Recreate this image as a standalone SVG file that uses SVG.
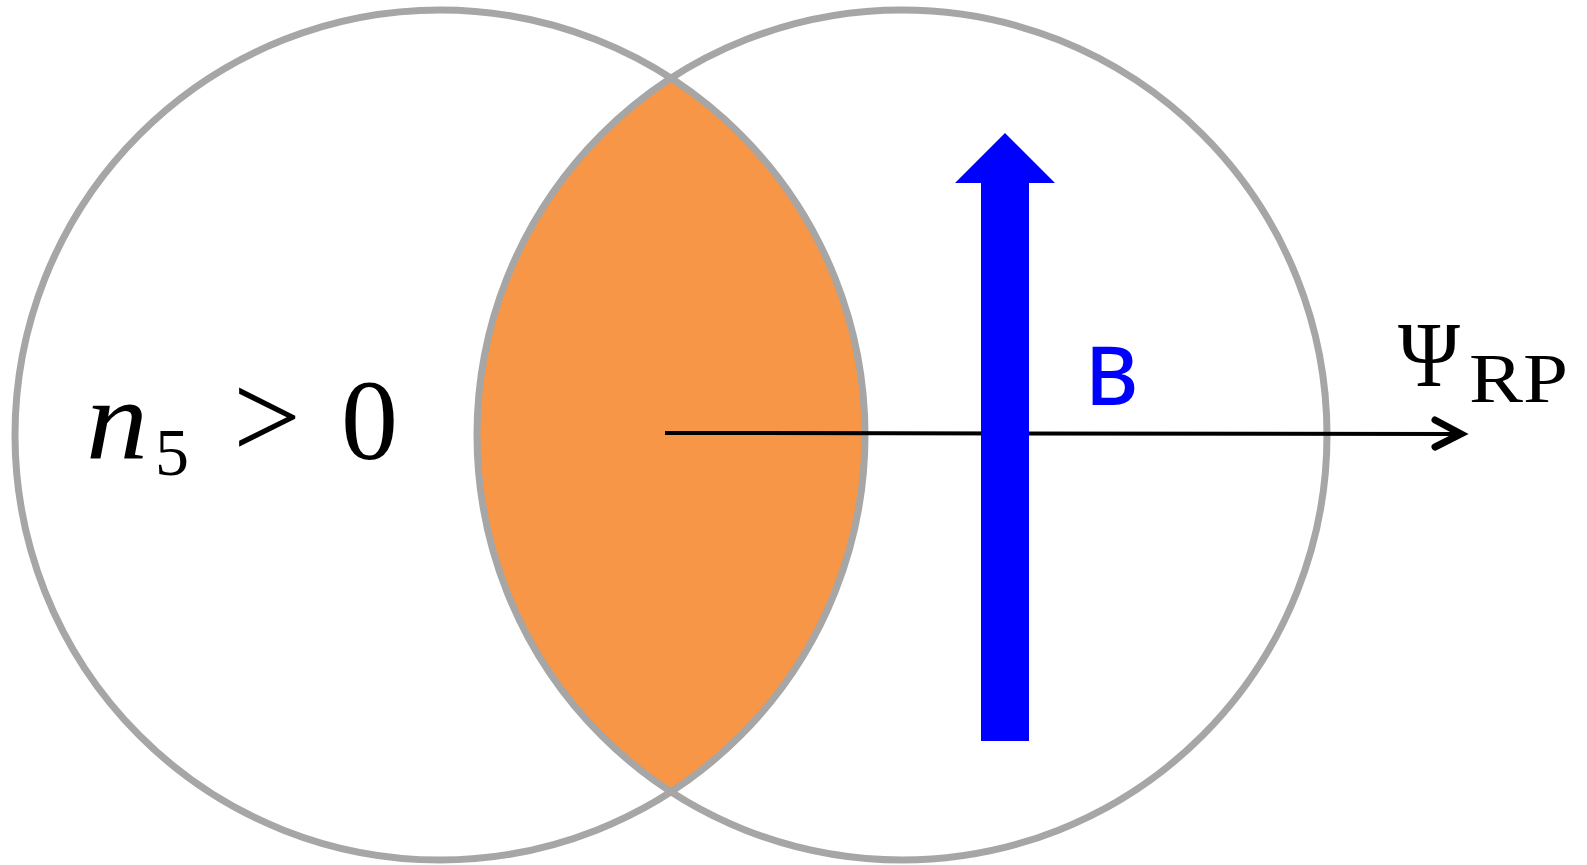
<svg xmlns="http://www.w3.org/2000/svg" width="1587" height="865" viewBox="0 0 1587 865">
  <style>
    .ring { fill: none; stroke: #A6A6A6; stroke-width: 7; }
    .lens { fill: #F79646; stroke: none; }
    .math { font-family: "Liberation Serif", "DejaVu Serif", serif; fill: #000; }
    .it { font-style: italic; }
    .blab { font-family: "Noto Sans", "Open Sans", sans-serif; fill: #0000FF; font-weight: 500; }
    .axis { stroke: #000; stroke-width: 4; fill: none; }
    .head { stroke: #000; stroke-width: 7; fill: none; stroke-linecap: round; stroke-linejoin: miter; }
  </style>
  <rect width="1587" height="865" fill="#FFFFFF"/>
  <g id="overlap">
    <path class="lens" d="M 671 78.3 A 425 425 0 0 1 671 791.7 A 425 425 0 0 1 671 78.3 Z"/>
  </g>
  <g id="left-nucleus">
    <circle class="ring" cx="440" cy="435" r="425"/>
  </g>
  <g id="right-nucleus">
    <circle class="ring" cx="902" cy="435" r="425"/>
  </g>
  <g id="connectors">
    <line class="axis" x1="665" y1="433" x2="1460" y2="434"/>
    <polyline class="head" points="1435,420 1461,434 1435,447"/>
  </g>
  <g id="b-field">
    <polygon fill="#0000FF" points="1005,133 1055,183 1029,183 1029,741 981,741 981,183 955,183"/>
    <text class="blab" x="1085" y="405" font-size="82">B</text>
  </g>
  <g id="n5-label">
    <text class="math it" x="86" y="459" font-size="114" textLength="62" lengthAdjust="spacingAndGlyphs">n</text>
    <text class="math" x="155" y="475" font-size="68">5</text>
    <text class="math" x="233" y="458" font-size="122" textLength="68" lengthAdjust="spacingAndGlyphs">&gt;</text>
    <text class="math" x="341" y="459" font-size="114">0</text>
  </g>
  <g id="psi-label">
    <text class="math" x="1398" y="386" font-size="94" textLength="62" lengthAdjust="spacingAndGlyphs">Ψ</text>
    <text class="math" x="1469" y="402" font-size="70" textLength="99" lengthAdjust="spacingAndGlyphs">RP</text>
  </g>
</svg>
